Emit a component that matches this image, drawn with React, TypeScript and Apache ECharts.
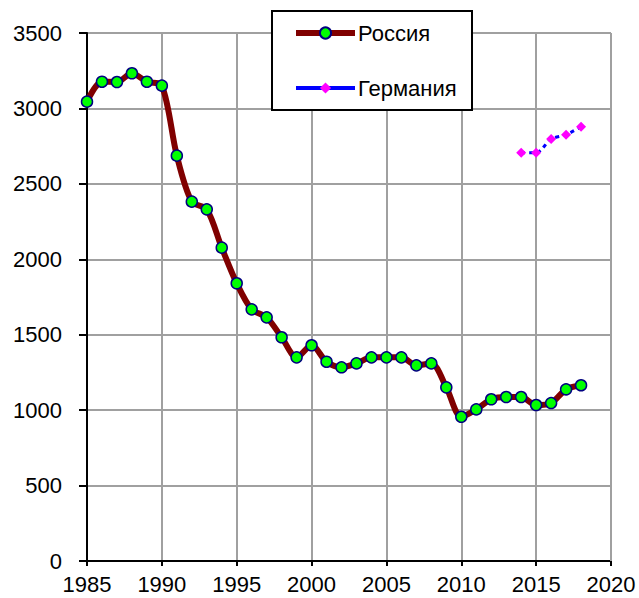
import React, { useEffect, useRef } from "react";
import * as echarts from "echarts";

const years: number[] = [];
for (let y = 1985; y <= 2018; y++) years.push(y);

const russiaValues = [
  3045, 3177, 3175, 3233, 3177, 3151, 2687, 2382, 2331, 2077,
  1841, 1668, 1615, 1483, 1350, 1430, 1321, 1284, 1310, 1350,
  1350, 1350, 1297, 1310, 1151, 956, 1005, 1072, 1087, 1087,
  1034, 1047, 1138, 1165,
];

const germanyYears = [2014, 2015, 2016, 2017, 2018];
const germanyValues = [2707, 2707, 2797, 2826, 2879];

const seriesNames = ["Россия", "Германия"];

export default function App() {
  const ref = useRef<HTMLDivElement>(null);
  useEffect(() => {
    document.body.style.margin = "0";
    const chart = echarts.init(ref.current!, null, { renderer: "svg" });
    const font = "'Liberation Sans', Arial, sans-serif";
    chart.setOption({
      animation: false,
      backgroundColor: "#ffffff",
      grid: { left: 87, right: 28, top: 33, bottom: 37, containLabel: false },
      xAxis: {
        type: "value",
        min: 1985,
        max: 2020,
        interval: 5,
        axisLine: { show: true, onZero: false, lineStyle: { color: "#000", width: 2 } },
        axisTick: { show: true, length: 5, lineStyle: { color: "#000", width: 2 } },
        axisLabel: {
          color: "#000", fontSize: 22, fontFamily: font, margin: 12,
          formatter: (v: number) => String(v),
        },
        splitLine: { show: true, lineStyle: { color: "#a0a0a0", width: 2 } },
      },
      yAxis: {
        type: "value",
        min: 0,
        max: 3500,
        interval: 500,
        axisLine: { show: true, lineStyle: { color: "#000", width: 2 } },
        axisTick: { show: true, length: 8, lineStyle: { color: "#000", width: 2 } },
        axisLabel: {
          color: "#000", fontSize: 22, fontFamily: font, margin: 25,
          formatter: (v: number) => String(v),
        },
        splitLine: { show: true, lineStyle: { color: "#a0a0a0", width: 2 } },
      },
      graphic: [
        {
          type: "line",
          shape: { x1: 611, y1: 33, x2: 611, y2: 561 },
          style: { stroke: "#a0a0a0", lineWidth: 2 },
          z: 1,
        },
        {
          type: "rect",
          shape: { x: 272, y: 11, width: 200, height: 99 },
          style: { fill: "#fff", stroke: "#000", lineWidth: 2 },
          z: 10,
        },
      ],
      legend: {
        orient: "vertical",
        left: 293,
        top: 22,
        padding: 0,
        itemWidth: 59,
        itemHeight: 14,
        itemGap: 33,
        z: 20,
        textStyle: { color: "#000", fontSize: 22, fontFamily: font, padding: [0, 0, 0, -2] },
        data: [
          { name: seriesNames[0], lineStyle: { width: 6, color: "#800000" } },
          { name: seriesNames[1], lineStyle: { width: 4, color: "#0000ff", type: "solid" } },
        ],
      },
      series: [
        {
          name: seriesNames[0],
          type: "line",
          data: years.map((y, i) => [y, russiaValues[i]]),
          smooth: 0.3,
          symbol: "circle",
          symbolSize: 11,
          lineStyle: { color: "#800000", width: 6 },
          itemStyle: { color: "#00ff00", borderColor: "#000080", borderWidth: 1.5 },
          z: 5,
        },
        {
          name: seriesNames[1],
          type: "line",
          data: germanyYears.map((y, i) => [y, germanyValues[i]]),
          smooth: 0.3,
          symbol: "diamond",
          symbolSize: 10,
          lineStyle: { color: "#0000ff", width: 3, type: [4, 4] },
          itemStyle: { color: "#ff00ff", borderWidth: 0 },
          z: 5,
        },
      ],
    });
    return () => chart.dispose();
  }, []);
  return <div ref={ref} style={{ width: 639, height: 598 }} />;
}
